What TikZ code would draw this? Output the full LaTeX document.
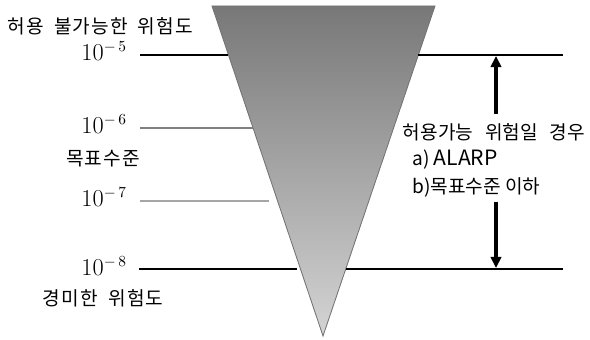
\documentclass[tikz,border=0pt]{standalone}
\usepackage{fontspec}
\newfontfamily\kr{Noto Sans CJK KR}
\newfontfamily\krls[LetterSpace=6]{Noto Sans CJK KR}
\usetikzlibrary{arrows.meta}
\begin{document}
\begin{tikzpicture}[x=0.025cm,y=-0.025cm,
  krtext/.style={font=\kr\fontsize{13.6}{16}\selectfont, inner sep=0pt},
  krwide/.style={font=\krls\fontsize{13.6}{16}\selectfont, inner sep=0pt},
  numtext/.style={font=\fontsize{16}{18}\selectfont, inner sep=0pt},
  heavy/.style={line width=2.1pt, black},
  midline/.style={line width=1.5pt, color=black!50},
  thinline/.style={line width=0.8pt, color=black!35},
  arr/.style={line width=2.3pt, -{Triangle[length=8pt,width=7.5pt]}}]
\useasboundingbox (0,0) rectangle (590,340);
% funnel
\shade[top color=black!53, bottom color=black!17, draw=black!55, line width=0.6pt]
  (212,6) -- (435,6) -- (323,336) -- cycle;
% level lines
\coordinate (l5a) at (140,55); \coordinate (l5b) at (228,55);
\coordinate (r5a) at (418,55); \coordinate (r5b) at (563,55);
\coordinate (l6a) at (140,128); \coordinate (l6b) at (253,128);
\coordinate (l7a) at (140,201); \coordinate (l7b) at (269,201);
\coordinate (l8a) at (139,269); \coordinate (l8b) at (297,269);
\coordinate (r8a) at (346,269); \coordinate (r8b) at (563,269);
\draw[heavy] (l5a) -- (l5b);
\draw[heavy] (r5a) -- (r5b);
\draw[midline] (l6a) -- (l6b);
\draw[thinline] (l7a) -- (l7b);
\draw[heavy] (l8a) -- (l8b);
\draw[heavy] (r8a) -- (r8b);
% arrows
\coordinate (a1s) at (496,114); \coordinate (a1e) at (496,56);
\coordinate (a2s) at (496,202); \coordinate (a2e) at (496,268);
\draw[arr] (a1s) -- (a1e);
\draw[arr] (a2s) -- (a2e);
% labels
\node[krwide, anchor=west] (unacc) at (7,26) {허용\hspace{0.55em}불가능한\hspace{0.5em}위험도};
\node[numtext, anchor=east] (n5) at (127,51) {$10^{-\,5}$};
\node[numtext, anchor=east] (n6) at (127,124) {$10^{-\,6}$};
\node[krwide] (target) at (103,159) {목표수준};
\node[numtext, anchor=east] (n7) at (127,197) {$10^{-\,7}$};
\node[numtext, anchor=east] (n8) at (127,266) {$10^{-\,8}$};
\node[krwide] (minor) at (103,298) {경미한\hspace{0.55em}위험도};
\node[krtext] (acc) at (494,132) {허용가능\hspace{0.4em} 위험일\hspace{0.4em} 경우};
\node[krtext, anchor=west] (alarp) at (412,160) {a) {\fontsize{15}{17}\selectfont ALARP}};
\node[krtext, anchor=west] (below) at (412,187) {b)목표수준 이하};
\end{tikzpicture}
\end{document}
